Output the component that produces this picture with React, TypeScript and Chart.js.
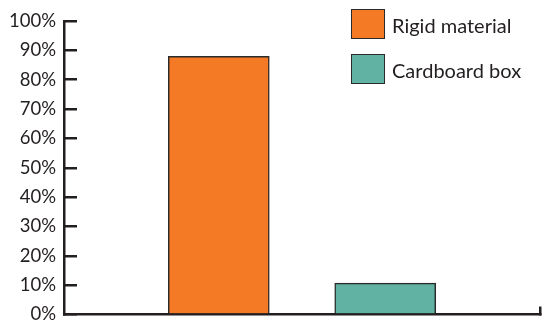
import React, { useEffect, useRef } from "react";
import { Chart, registerables } from "chart.js";

Chart.register(...registerables);

const categories = ["Rigid material", "Cardboard box"];
const values = [88, 10.7];
const colors = ["#F47A25", "#62B2A3"];
const yTickValues = [0, 10, 20, 30, 40, 50, 60, 70, 80, 90, 100];

const AXIS = "#231f20";
const FONT = "Lato, 'Open Sans', sans-serif";

export default function App() {
  const ref = useRef<HTMLCanvasElement>(null);

  useEffect(() => {
    const xMin = -0.93;
    const xMax = 1.93;
    const chart = new Chart(ref.current!, {
      type: "bar",
      data: {
        datasets: categories.map((c, i) => ({
          label: c,
          data: [{ x: i, y: values[i] }],
          backgroundColor: colors[i],
          borderColor: "#2b2b2b",
          borderWidth: 1.5,
          barThickness: 101,
          grouped: false,
        })),
      },
      options: {
        responsive: false,
        animation: false,
        layout: { padding: { top: 21, right: 2, bottom: 0, left: 0 } },
        plugins: { legend: { display: false }, tooltip: { enabled: false } },
        scales: {
          x: {
            type: "linear",
            offset: false,
            min: xMin,
            max: xMax,
            afterFit: (s: any) => {
              s.height = 10.5;
              s.paddingLeft = 0;
              s.paddingRight = 0;
            },
            ticks: { display: false, stepSize: 1 },
            grid: {
              offset: false,
              drawOnChartArea: false,
              drawTicks: true,
              tickLength: -8,
              lineWidth: 2.5,
              color: (ctx: any) =>
                ctx.tick && ctx.tick.value >= xMax - 1e-6 ? AXIS : "rgba(0,0,0,0)",
            },
            border: { display: true, width: 2.5, color: AXIS },
          },
          y: {
            min: 0,
            max: 100,
            afterFit: (s: any) => {
              s.width = 64;
              s.paddingTop = 0;
              s.paddingBottom = 0;
            },
            afterBuildTicks: (s: any) => {
              s.ticks = yTickValues.map((v) => ({ value: v }));
            },
            ticks: {
              callback: (v: any) => v + "%",
              padding: 21,
              color: AXIS,
              font: { family: FONT, size: 18.5 },
            },
            grid: {
              drawOnChartArea: false,
              drawTicks: true,
              tickLength: -13,
              lineWidth: 2.5,
              color: AXIS,
            },
            border: { display: true, width: 2.5, color: AXIS },
          },
        },
      },
    });
    return () => chart.destroy();
  }, []);

  return (
    <div style={{ position: "absolute", left: 0, top: 0, width: 542, height: 325, background: "#fff" }}>
      <canvas ref={ref} width={542} height={325} style={{ display: "block" }} />
      {categories.map((c, i) => (
        <div
          key={c}
          style={{
            position: "absolute",
            left: 351,
            top: 9 + i * 45,
            height: 30,
            display: "flex",
            alignItems: "center",
            fontFamily: FONT,
            fontSize: 20,
            color: AXIS,
            whiteSpace: "nowrap",
          }}
        >
          <span
            style={{
              display: "inline-block",
              width: 34,
              height: 30,
              boxSizing: "border-box",
              border: "1.5px solid #2b2b2b",
              background: colors[i],
              marginRight: 7,
              flex: "none",
            }}
          />
          <span style={{ position: "relative", top: 1 }}>{c}</span>
        </div>
      ))}
    </div>
  );
}
